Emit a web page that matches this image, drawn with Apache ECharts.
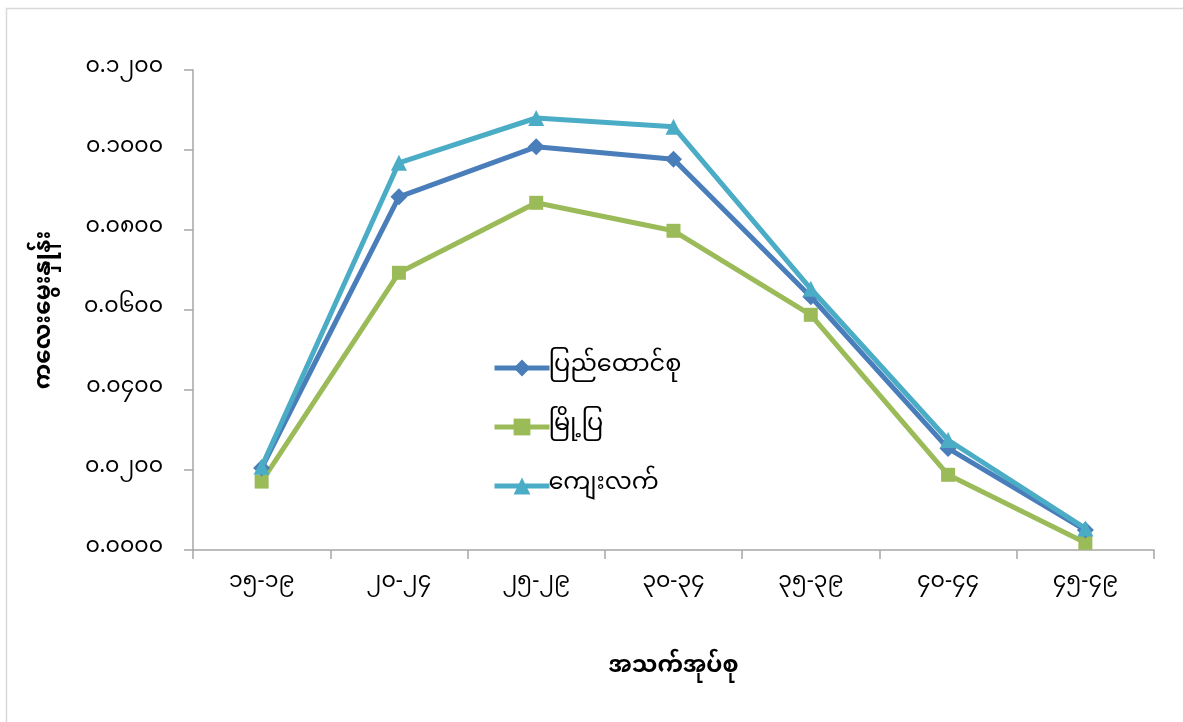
<!DOCTYPE html>
<html>
<head>
<meta charset="utf-8">
<script src="https://cdn.jsdelivr.net/npm/echarts@6/dist/echarts.min.js"></script>
<style>
html,body{margin:0;padding:0;background:#fff;}
#c{width:1183px;height:722px;}
</style>
</head>
<body>
<div id="c"></div>
<script>
const categories = ['၁၅-၁၉','၂၀-၂၄','၂၅-၂၉','၃၀-၃၄','၃၅-၃၉','၄၀-၄၄','၄၅-၄၉'];
const seriesNames = ['ပြည်ထောင်စု','မြို့ပြ','ကျေးလက်'];
const unionValues = [0.0205, 0.0883, 0.1008, 0.0977, 0.0633, 0.0254, 0.0050];
const urbanValues = [0.0171, 0.0693, 0.0868, 0.0798, 0.0588, 0.0188, 0.0018];
const ruralValues = [0.0208, 0.0968, 0.1080, 0.1058, 0.0653, 0.0275, 0.0054];
const yTickLabels = ['၀.၀၀၀၀','၀.၀၂၀၀','၀.၀၄၀၀','၀.၀၆၀၀','၀.၀၈၀၀','၀.၁၀၀၀','၀.၁၂၀၀'];
const yAxisTitle = 'ကလေးမွေးနှုန်း';
const xAxisTitle = 'အသက်အုပ်စု';

const FONT = "'Noto Sans Myanmar','Noto Sans','DejaVu Sans',sans-serif";
const colors = ['#4A7EBB', '#9BBB59', '#4BACC6'];
const symbols = ['diamond', 'rect', 'triangle'];
const symbolSizes = [17, 14, 16];
const valuesList = [unionValues, urbanValues, ruralValues];

const chart = echarts.init(document.getElementById('c'), null, {renderer: 'canvas'});
chart.setOption({
  backgroundColor: '#fff',
  animation: false,
  color: colors,
  graphic: [{
    type: 'rect',
    shape: {x: 6.5, y: 8.5, width: 1200, height: 800},
    style: {fill: 'none', stroke: '#D9D9D9', lineWidth: 1.5},
    silent: true
  }],
  grid: {left: 193, top: 70, width: 961, height: 480, containLabel: false},
  legend: {
    orient: 'vertical',
    left: 492,
    top: 356,
    padding: 0,
    itemGap: 35,
    itemWidth: 55,
    itemHeight: 21,
    lineStyle: {width: 5},
    textStyle: {fontFamily: FONT, fontSize: 24, color: '#000', padding: [0,0,0,-6]},
    data: seriesNames
  },
  xAxis: {
    type: 'category',
    data: categories,
    boundaryGap: true,
    axisLine: {lineStyle: {color: '#A6A6A6', width: 1.5}},
    axisTick: {show: true, alignWithLabel: false, length: 9, lineStyle: {color: '#A6A6A6', width: 1.5}},
    axisLabel: {fontFamily: FONT, fontSize: 22, color: '#000', margin: 24},
    name: xAxisTitle,
    nameLocation: 'middle',
    nameGap: 108,
    nameTextStyle: {fontFamily: FONT, fontSize: 23, fontWeight: 'bold', color: '#000'},
    splitLine: {show: false}
  },
  yAxis: {
    type: 'value',
    min: 0,
    max: 0.12,
    interval: 0.02,
    axisLine: {show: true, lineStyle: {color: '#A6A6A6', width: 1.5}},
    axisTick: {show: true, length: 9, lineStyle: {color: '#A6A6A6', width: 1.5}},
    axisLabel: {
      fontFamily: FONT, fontSize: 22, color: '#000', margin: 30,
      formatter: function (v) { return yTickLabels[Math.round(v / 0.02)]; }
    },
    splitLine: {show: false},
    name: yAxisTitle,
    nameLocation: 'middle',
    nameGap: 134,
    nameRotate: 90,
    nameTextStyle: {fontFamily: FONT, fontSize: 23, fontWeight: 'bold', color: '#000'}
  },
  series: seriesNames.map((n, i) => ({
    name: n,
    type: 'line',
    data: valuesList[i],
    symbol: symbols[i],
    symbolSize: symbolSizes[i],
    showAllSymbol: true,
    lineStyle: {width: 5, color: colors[i]},
    itemStyle: {color: colors[i]},
    z: i === 1 ? 1 : (i === 0 ? 2 : 3)
  }))
});
</script>
</body>
</html>
